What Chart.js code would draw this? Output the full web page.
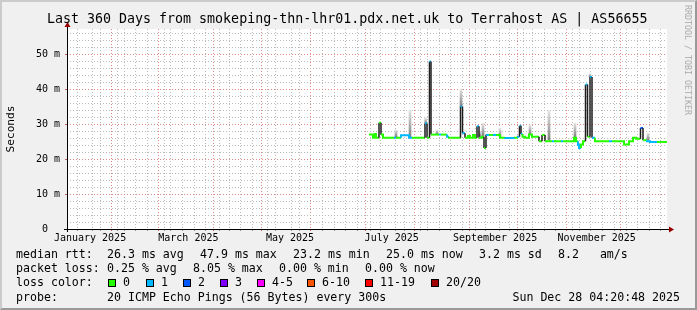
<!DOCTYPE html>
<html>
<head>
<meta charset="utf-8">
<script src="https://cdn.jsdelivr.net/npm/chart.js@4.4.1/dist/chart.umd.min.js"></script>
<style>
  html, body { margin: 0; padding: 0; background: #f0f0f0; }
  #wrap { position: relative; width: 697px; height: 310px; overflow: hidden; background: #f0f0f0; }
  #wrap canvas { position: absolute; left: 0; top: 0; }
  .shade { position: absolute; left: 0; top: 0; width: 697px; height: 310px; box-sizing: border-box;
           border-top: 2px solid #cbcbcb; border-left: 2px solid #cbcbcb;
           border-bottom: 2px solid #999; border-right: 2px solid #999; pointer-events: none; }
  .txt { position: absolute; font-family: "DejaVu Sans Mono", monospace; color: #000; white-space: pre; }
  .foot { font-size: 11.6px; line-height: 14px; }
  .box { position: absolute; width: 6px; height: 6px; border: 1px solid #000; }
</style>
</head>
<body>
<div id="wrap">
  <canvas id="chart" width="697" height="310"></canvas>
  <div class="txt" id="title" style="left:47px; top:11px; font-size:13.3px; line-height:16px;"></div>
  <div class="txt" id="mark" style="left:688px; top:60px; font-size:8.3px; line-height:10px; color:#aaaaaa; transform:translate(-50%,-50%) rotate(90deg);">RRDTOOL / TOBI OETIKER</div>
  <div id="footer"></div>
  <div class="shade"></div>
</div>
<script>
const titleText = 'Last 360 Days from smokeping-thn-lhr01.pdx.net.uk to Terrahost AS | AS56655';
const yTitle = 'Seconds';
const startTime = Date.UTC(2025, 0, 2, 4, 20, 48);
const spanDays = 360;

// axis labels
const labelMonths = [0, 2, 4, 6, 8, 10];
const labelTexts = ['January 2025', 'March 2025', 'May 2025', 'July 2025', 'September 2025', 'November 2025'];
const yMax = 57.2;
const yLabelValues = [0, 10, 20, 30, 40, 50];
const yLabels = ['0  ', '10 m', '20 m', '30 m', '40 m', '50 m'];

// median rtt steps (days since start, ms, loss class)
const stepDay = [181.2, 183.6, 184.8, 185.4, 187.2, 188.4, 189.6, 196.2, 197.4, 200.4,
  205.2, 207.0, 214.8, 216.0, 217.5, 218.4, 223.2, 224.4, 228.0, 229.2,
  236.1, 237.3, 238.8, 240.6, 241.8, 243.6, 244.8, 246.0, 247.2, 249.0,
  250.2, 251.4, 253.2, 255.6, 257.4, 259.8, 262.8, 268.8, 270.6, 271.5,
  272.4, 273.3, 274.8, 277.2, 279.0, 283.2, 285.0, 286.8, 291.0, 292.2,
  296.4, 297.6, 304.2, 305.4, 306.6, 307.2, 308.4, 309.6, 311.1, 312.3,
  313.8, 315.0, 316.8, 325.2, 327.0, 334.2, 337.2, 339.6, 341.4, 344.1,
  345.6, 348.0, 349.8, 354.0];
const medianRtt = [27.0, 26.1, 27.2, 26.1, 30.4, 27.0, 26.1, 26.1, 26.1, 26.8,
  26.1, 26.1, 30.2, 26.1, 47.9, 27.0, 27.0, 27.0, 26.4, 26.1,
  35.0, 27.4, 26.1, 26.6, 26.1, 26.9, 26.1, 29.4, 26.1, 26.4,
  23.2, 26.9, 26.9, 26.9, 26.9, 26.1, 26.0, 26.1, 26.4, 29.5,
  27.2, 26.4, 26.1, 27.0, 26.4, 25.1, 26.9, 25.1, 25.1, 25.1,
  25.1, 25.1, 26.1, 25.1, 24.0, 23.2, 24.2, 25.1, 41.3, 26.4,
  43.5, 26.1, 25.1, 25.1, 25.1, 24.2, 25.1, 26.1, 25.8, 28.9,
  25.4, 25.1, 24.9, 24.9];
const lossClass = [0, 0, 0, 0, 0, 0, 0, 1, 0, 1,
  1, 0, 1, 0, 1, 0, 1, 0, 1, 0,
  1, 1, 0, 0, 0, 0, 0, 1, 0, 0,
  0, 1, 0, 1, 0, 0, 1, 0, 1, 1,
  1, 0, 0, 0, 0, 0, 0, 0, 1, 0,
  1, 0, 0, 0, 1, 1, 0, 0, 1, 0,
  1, 1, 0, 1, 0, 0, 0, 0, 0, 2,
  0, 1, 1, 0];

// smoke (spread of the pings)
const smokeDay = [197.4, 205.8, 215.2, 222.0, 236.4, 247.8, 249.6, 259.8, 277.8, 289.2, 304.8, 313.8, 348.6];
const smokeLow = [26.4, 26.4, 30.2, 27.2, 35.0, 26.4, 26.6, 26.4, 27.2, 25.4, 26.3, 43.5, 25.4];
const smokeHigh = [28.3, 34.0, 31.7, 28.3, 40.0, 28.0, 30.2, 28.8, 29.7, 33.8, 30.3, 44.4, 27.4];

const lossColors = ['#26ff00', '#00b8ff', '#0059ff', '#7e00ff', '#ff00ff', '#ff5500', '#ff0000', '#a10000'];
const lossNames = ['0', '1', '2', '3', '4-5', '6-10', '11-19', '20/20'];

// legend rows: [x, text]
const rowMedian = [[16, 'median rtt:'], [107, '26.3 ms avg'], [200, '47.9 ms max'], [293, '23.2 ms min'],
  [386, '25.0 ms now'], [479, '3.2 ms sd'], [558, '8.2   am/s']];
const rowLoss = [[16, 'packet loss:'], [107, '0.25 % avg'], [193, '8.05 % max'], [279, '0.00 % min'], [365, '0.00 % now']];
const lossBoxX = [108, 146, 183, 220, 257, 307, 365, 431];
const rowProbe = [[16, 'probe:'], [107, '20 ICMP Echo Pings (56 Bytes) every 300s']];
const stampText = 'Sun Dec 28 04:20:48 2025';
const rowTop = [247, 261.2, 275.4, 289.6];

document.getElementById('title').textContent = titleText;

const footer = document.getElementById('footer');
function addText(x, top, text) {
  const d = document.createElement('div');
  d.className = 'txt foot';
  d.style.left = x + 'px';
  d.style.top = top + 'px';
  d.textContent = text;
  footer.appendChild(d);
  return d;
}
rowMedian.forEach(([x, t]) => addText(x, rowTop[0], t));
rowLoss.forEach(([x, t]) => addText(x, rowTop[1], t));
addText(16, rowTop[2], 'loss color:');
lossBoxX.forEach((x, i) => {
  const b = document.createElement('div');
  b.className = 'box';
  b.style.left = x + 'px';
  b.style.top = (rowTop[2] + 3.5) + 'px';
  b.style.background = lossColors[i];
  footer.appendChild(b);
  addText(x + 15, rowTop[2], lossNames[i]);
});
rowProbe.forEach(([x, t]) => addText(x, rowTop[3], t));
const stamp = addText(0, rowTop[3], stampText);
stamp.style.left = 'auto';
stamp.style.right = (697 - 680) + 'px';

// line points from steps
const pts = [];
const ptLoss = [];
stepDay.forEach((d, i) => {
  if (i > 0) { pts.push({ x: d, y: medianRtt[i - 1] }); ptLoss.push(lossClass[i - 1]); }
  pts.push({ x: d, y: medianRtt[i] }); ptLoss.push(lossClass[i]);
});
pts.push({ x: spanDays, y: medianRtt[medianRtt.length - 1] });
ptLoss.push(lossClass[lossClass.length - 1]);

const smoke = smokeDay.map((d, i) => ({ x: d, y: [smokeLow[i], smokeHigh[i]] }));

const dayOf = (m, d) => (Date.UTC(2025, m, d) - startTime) / 864e5;

function xTicks(scale) {
  const ticks = [];
  const monthStarts = [];
  for (let m = 1; m < 12; m++) monthStarts.push(dayOf(m, 1));
  monthStarts.forEach(v => ticks.push({ value: v, kind: 'major' }));
  for (let k = 0; ; k++) {
    const v = dayOf(0, 5 + 7 * k);
    if (v > spanDays) break;
    if (!monthStarts.some(ms => Math.abs(ms - v) < 0.01)) ticks.push({ value: v, kind: 'minor' });
  }
  labelMonths.forEach((m, i) => ticks.push({ value: dayOf(m, 16), kind: 'label', text: labelTexts[i] }));
  ticks.sort((a, b) => a.value - b.value);
  scale.ticks = ticks;
}

function yTicks(scale) {
  const ticks = [];
  for (let v = 0; v < yMax; v += 2) ticks.push({ value: v });
  scale.ticks = ticks;
}

const gridMinor = '#bababa';
const gridMajor = '#e08888';
const clear = 'rgba(0,0,0,0)';
const kindOf = c => (c.tick ? c.tick.kind : null);
const isMajorY = c => !!c.tick && yLabelValues.includes(c.tick.value);

const axesPlugin = {
  id: 'rrdAxes',
  afterDraw(chart) {
    const { ctx, chartArea: a } = chart;
    ctx.save();
    ctx.strokeStyle = '#000';
    ctx.lineWidth = 1;
    ctx.beginPath();
    ctx.moveTo(a.left - 3, a.bottom + 0.5);
    ctx.lineTo(a.right + 4, a.bottom + 0.5);
    ctx.moveTo(a.left + 0.5, a.bottom + 3);
    ctx.lineTo(a.left + 0.5, a.top - 4);
    ctx.stroke();
    ctx.fillStyle = '#990000';
    ctx.beginPath();
    ctx.moveTo(a.right + 7, a.bottom + 0.5);
    ctx.lineTo(a.right + 2, a.bottom - 2.5);
    ctx.lineTo(a.right + 2, a.bottom + 3.5);
    ctx.closePath();
    ctx.fill();
    ctx.beginPath();
    ctx.moveTo(a.left + 0.5, a.top - 7);
    ctx.lineTo(a.left - 2.5, a.top - 2);
    ctx.lineTo(a.left + 3.5, a.top - 2);
    ctx.closePath();
    ctx.fill();
    ctx.restore();
  }
};

const bgPlugin = {
  id: 'canvasBg',
  beforeDraw(chart) {
    const { ctx, chartArea: a } = chart;
    ctx.save();
    ctx.fillStyle = '#f0f0f0';
    ctx.fillRect(0, 0, chart.width, chart.height);
    ctx.fillStyle = '#ffffff';
    ctx.fillRect(a.left, a.top, a.right - a.left, a.bottom - a.top);
    ctx.restore();
  }
};

function smokeFill(c) {
  const y = c.chart.scales.y;
  if (!c.raw || !y) return '#b8b8b8';
  const p0 = y.getPixelForValue(c.raw.y[0]);
  const p1 = y.getPixelForValue(c.raw.y[1]);
  if (!isFinite(p0) || !isFinite(p1) || p0 === p1) return '#b8b8b8';
  const g = c.chart.ctx.createLinearGradient(0, p0, 0, p1);
  g.addColorStop(0, '#808080');
  g.addColorStop(1, '#e4e4e4');
  return g;
}

new Chart(document.getElementById('chart'), {
  type: 'line',
  data: {
    datasets: [
      {
        type: 'line',
        label: 'median rtt',
        data: pts,
        order: 0,
        borderWidth: 2,
        pointRadius: 0,
        tension: 0,
        borderColor: lossColors[0],
        segment: {
          borderColor: c => {
            const a = pts[c.p0DataIndex], b = pts[c.p1DataIndex];
            if (a.x === b.x) return Math.abs(a.y - b.y) > 1.2 ? '#1e1e1e' : lossColors[ptLoss[c.p1DataIndex]];
            return lossColors[ptLoss[c.p0DataIndex]];
          },
          borderWidth: c => {
            const a = pts[c.p0DataIndex], b = pts[c.p1DataIndex];
            return (a.x === b.x && Math.abs(a.y - b.y) > 1.2) ? 1.5 : 2;
          }
        }
      },
      {
        type: 'bar',
        label: 'smoke',
        data: smoke,
        order: 1,
        barThickness: 2,
        grouped: false,
        borderWidth: 0,
        backgroundColor: smokeFill
      }
    ]
  },
  options: {
    responsive: false,
    animation: false,
    events: [],
    layout: { padding: { left: 0, top: 29, right: 30, bottom: 61 } },
    plugins: { legend: { display: false }, tooltip: { enabled: false }, title: { display: false } },
    scales: {
      x: {
        type: 'linear',
        min: 0,
        max: spanDays,
        offset: false,
        afterBuildTicks: xTicks,
        afterFit: s => { s.height = 20; },
        border: { display: false, dash: [1, 2] },
        grid: {
          color: c => kindOf(c) === 'major' ? gridMajor : (kindOf(c) === 'minor' ? gridMinor : clear),
          tickColor: c => kindOf(c) === 'major' ? '#c06060' : (kindOf(c) === 'minor' ? '#999' : clear),
          tickLength: 2,
          lineWidth: 1
        },
        ticks: {
          autoSkip: false,
          maxRotation: 0,
          padding: 1,
          color: '#000',
          font: { family: 'DejaVu Sans Mono', size: 10 },
          callback: (v, i, ticks) => (ticks[i] && ticks[i].text) || ''
        }
      },
      y: {
        min: 0,
        max: yMax,
        afterBuildTicks: yTicks,
        afterFit: s => { s.width = 67; },
        border: { display: false, dash: [1, 2] },
        title: {
          display: true,
          text: yTitle,
          color: '#000',
          padding: { top: 4, bottom: 0 },
          font: { family: 'DejaVu Sans Mono', size: 11.2 }
        },
        grid: {
          color: c => (isMajorY(c) ? gridMajor : gridMinor),
          tickColor: c => (isMajorY(c) ? '#c06060' : clear),
          tickLength: 2,
          lineWidth: 1
        },
        ticks: {
          autoSkip: false,
          padding: 5,
          color: '#000',
          font: { family: 'DejaVu Sans Mono', size: 10 },
          callback: v => {
            const k = yLabelValues.indexOf(v);
            return k >= 0 ? yLabels[k] : '';
          }
        }
      }
    }
  },
  plugins: [bgPlugin, axesPlugin]
});
</script>
</body>
</html>
